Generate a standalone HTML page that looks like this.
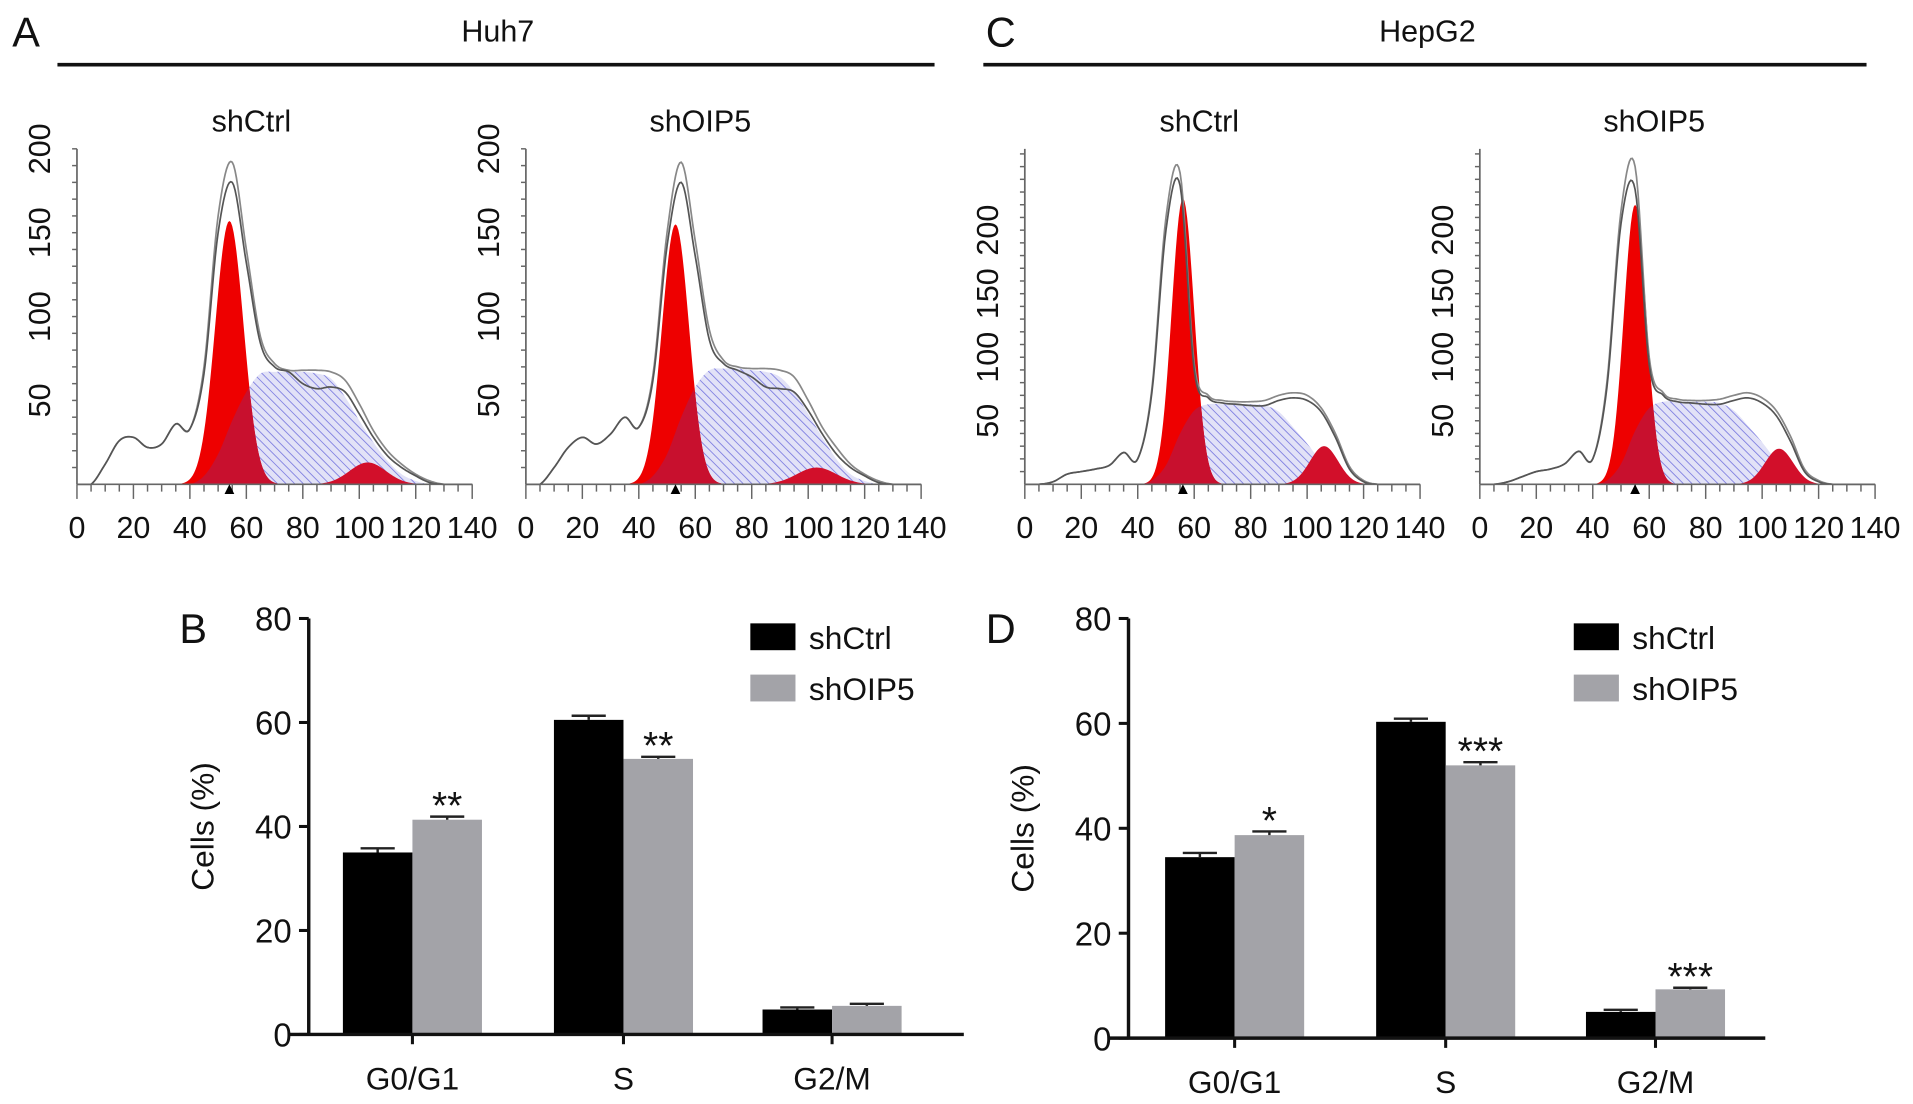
<!DOCTYPE html>
<html><head><meta charset="utf-8"><style>
html,body{margin:0;padding:0;background:#fff}
svg{display:block}
text{font-family:"Liberation Sans",sans-serif;fill:#111}
</style></head><body>
<svg id="fig" width="1913" height="1104" viewBox="0 0 1568 905" xmlns="http://www.w3.org/2000/svg">
<defs>
<pattern id="hatch" patternUnits="userSpaceOnUse" width="5" height="5" patternTransform="rotate(-45)">
<rect width="5" height="5" fill="#e2e2f7"/><line x1="0" y1="0" x2="0" y2="5" stroke="#7c7ce0" stroke-width="1.4"/>
</pattern>
</defs>
<g>
<text x="10" y="38" font-size="34">A</text>
<text x="808" y="38" font-size="34">C</text>
<text x="147" y="527" font-size="34">B</text>
<text x="808" y="527" font-size="34">D</text>
<text x="408" y="34" font-size="25" text-anchor="middle">Huh7</text>
<text x="1170" y="34" font-size="25" text-anchor="middle">HepG2</text>
<line x1="47" y1="53" x2="766" y2="53" stroke="#111" stroke-width="3"/>
<line x1="806" y1="53" x2="1530" y2="53" stroke="#111" stroke-width="3"/>
</g>
</svg>
<script>
// ---- Histogram data (DNA content 0..140 step 5) ----
const histX = [0,5,10,15,20,25,30,35,40,45,50,55,60,65,70,75,80,85,90,95,100,105,110,115,120,125,130,135,140];
const huhCtrlOutlineA = [0,0,12,26,28,22,24,36,33,70,160,192,140,88,72,68,68,68,67,62,48,32,20,12,6,2,0,0,0];
const huhCtrlOutlineB = [0,0,12,26,28,22,24,36,33,66,150,180,132,84,70,67,60,57,58,55,42,28,17,10,5,1,0,0,0];
const huhCtrlS = [0,0,0,0,0,0,0,0,0,5,18,38,55,66,67,67,67,66,63,52,38,25,14,6,2,0,0,0,0];
const huhCtrlPeaks = [[54,5,157],[103,6.5,13]];
const huhOipOutlineA = [0,0,10,22,28,24,30,40,34,65,150,192,145,92,74,70,69,69,68,64,50,34,22,12,6,2,0,0,0];
const huhOipOutlineB = [0,0,10,22,28,24,30,40,34,62,142,180,136,86,72,68,64,58,57,55,44,30,18,10,5,1,0,0,0];
const huhOipS = [0,0,0,0,0,0,0,0,0,5,18,40,58,68,69,69,68,67,64,55,42,28,15,6,2,0,0,0,0];
const huhOipPeaks = [[53,4.8,155],[103,7,10]];
const hepCtrlOutlineA = [0,0,2,8,10,12,15,25,20,75,210,245,95,70,66,65,65,66,70,72,70,60,40,14,3,0,0,0,0];
const hepCtrlOutlineB = [0,0,2,8,10,12,15,25,20,72,200,235,90,68,64,63,62,62,66,68,66,57,37,12,2,0,0,0,0];
const hepCtrlS = [0,0,0,0,0,0,0,0,0,3,15,40,58,63,63,63,63,62,57,45,32,18,8,2,0,0,0,0,0];
const hepCtrlPeaks = [[56,4,225],[106,5,30]];
const hepOipOutlineA = [0,0,2,6,10,12,16,26,20,80,215,250,100,72,67,66,66,67,70,72,68,58,38,12,3,0,0,0,0];
const hepOipOutlineB = [0,0,2,6,10,12,16,26,20,76,205,232,94,70,65,64,63,63,66,68,64,54,34,10,2,0,0,0,0];
const hepOipS = [0,0,0,0,0,0,0,0,0,3,16,42,60,65,65,65,65,64,58,46,33,19,9,2,0,0,0,0,0];
const hepOipPeaks = [[55,4,220],[106,5,28]];
const huhYTicks = [50,100,150,200];
const hepYTicks = [50,100,150,200];
const xTicks = [0,20,40,60,80,100,120,140];

// ---- Bar data ----
const phases = ["G0/G1","S","G2/M"];
const huhCtrlBars = [35,60.5,4.8];
const huhOipBars = [41.3,53,5.5];
const huhCtrlErr = [0.8,0.8,0.4];
const huhOipErr = [0.6,0.4,0.4];
const huhStars = ["**","**",""];
const hepCtrlBars = [34.5,60.3,5];
const hepOipBars = [38.7,52,9.3];
const hepCtrlErr = [0.8,0.6,0.4];
const hepOipErr = [0.7,0.6,0.3];
const hepStars = ["*","***","***"];
const barYTicks = [0,20,40,60,80];

const NS="http://www.w3.org/2000/svg";
const svg=document.getElementById('fig');
function mk(tag,attrs,parent){const e=document.createElementNS(NS,tag);for(const k in attrs)e.setAttribute(k,attrs[k]);(parent||svg).appendChild(e);return e;}

function gauss(x,p){return p[2]*Math.exp(-0.5*Math.pow((x-p[0])/p[1],2));}
function interp(arr,x){
  const n=arr.length;const i=Math.min(Math.floor(x/5),n-2);const t=(x-i*5)/5;
  const p0=arr[Math.max(i-1,0)],p1=arr[i],p2=arr[i+1],p3=arr[Math.min(i+2,n-1)];
  const v=0.5*((2*p1)+(-p0+p2)*t+(2*p0-5*p1+4*p2-p3)*t*t+(-p0+3*p1-3*p2+p3)*t*t*t);
  return Math.max(0,v);
}

function histPanel(name,ox,title,yMax,outA,outB,sArr,peaks,yTicks){
  const y0=397,yTop=122;
  const g=mk('g',{});
  
  
  const sx=v=>ox+v*(324/140);
  const sy=v=>y0-v*((y0-yTop)/yMax);
  const t=mk('text',{x:ox+143,y:108,'font-size':25,'text-anchor':'middle'},g);t.textContent=title;
  
  
  const fine=[];for(let x=0;x<=140;x+=0.5)fine.push(x);
  function area(fn,fill,nm){let d='M'+sx(0)+','+sy(0);fine.forEach(x=>{d+='L'+sx(x).toFixed(2)+','+sy(Math.min(fn(x),yMax*1.15)).toFixed(2);});d+='L'+sx(140)+','+sy(0)+'Z';
    const p=mk('path',{d:d,fill:fill,stroke:'none'},g);return p;}
  area(x=>interp(sArr,x),'url(#hatch)','s-phase-area');
  area(x=>gauss(x,peaks[0]),'#ee0000','g1-peak');
  area(x=>Math.min(gauss(x,peaks[0]),interp(sArr,x)),'#c8102e','g1-s-overlap');
  area(x=>gauss(x,peaks[1]),'#d20f2a','g2-peak');
  [outA,outB].forEach((arr,k)=>{let d='';fine.forEach((x,i)=>{d+=(i?'L':'M')+sx(x).toFixed(2)+','+sy(interp(arr,x)).toFixed(2);});
    const p=mk('path',{d:d,fill:'none',stroke:k?'#555':'#888','stroke-width':1.4},g);});
  const ax=mk('line',{x1:ox,y1:y0,x2:sx(140),y2:y0,stroke:'#666','stroke-width':1.4},g);
  
  const ay=mk('line',{x1:ox,y1:y0,x2:ox,y2:yTop,stroke:'#666','stroke-width':1.4},g);
  
  for(let v=0;v<=140;v+=5){mk('line',{x1:sx(v),y1:y0,x2:sx(v),y2:y0+(v%20==0?12:6),stroke:'#666','stroke-width':1.2},g);}
  for(let v=10;v<=yMax;v+=10){if(sy(v)<yTop-1)break;mk('line',{x1:ox-4,y1:sy(v),x2:ox,y2:sy(v),stroke:'#666','stroke-width':1.2},g);}
  xTicks.forEach(v=>{const tt=mk('text',{x:sx(v),y:441,'font-size':25,'text-anchor':'middle'},g);tt.textContent=v;
    });
  yTicks.forEach(v=>{const tt=mk('text',{x:0,y:0,'font-size':25,'text-anchor':'middle',transform:'translate('+(ox-22)+','+sy(v)+') rotate(-90)'},g);tt.textContent=v;
    });
  const m=mk('path',{d:'M'+(sx(peaks[0][0])-4)+','+(y0+8)+'l4,-8l4,8z',fill:'#000'},g);
  
}
histPanel('huh7-shctrl-histogram',63,'shCtrl',200,huhCtrlOutlineA,huhCtrlOutlineB,huhCtrlS,huhCtrlPeaks,huhYTicks);
histPanel('huh7-shoip5-histogram',431,'shOIP5',200,huhOipOutlineA,huhOipOutlineB,huhOipS,huhOipPeaks,huhYTicks);
histPanel('hepg2-shctrl-histogram',840,'shCtrl',264,hepCtrlOutlineA,hepCtrlOutlineB,hepCtrlS,hepCtrlPeaks,hepYTicks);
histPanel('hepg2-shoip5-histogram',1213,'shOIP5',264,hepOipOutlineA,hepOipOutlineB,hepOipS,hepOipPeaks,hepYTicks);

function barPanel(name,ax0,y0,yTop,xEnd,centers,c,o,ce,oe,stars,legX){
  const g=mk('g',{});
  
  
  const sy=v=>y0-v*(y0-yTop)/80;
  const bw=57;
  phases.forEach((p,i)=>{
    const cx=centers[i];
    const b1=mk('rect',{x:cx-bw,y:sy(c[i]),width:bw,height:y0-sy(c[i]),fill:'#000'},g);
    
    const b2=mk('rect',{x:cx,y:sy(o[i]),width:bw,height:y0-sy(o[i]),fill:'#a3a3a8'},g);
    
    [[cx-bw/2,c[i],ce[i]],[cx+bw/2,o[i],oe[i]]].forEach(e=>{
      const el=mk('path',{d:'M'+e[0]+','+sy(e[1])+'V'+sy(e[1]+e[2])+'M'+(e[0]-14)+','+sy(e[1]+e[2])+'H'+(e[0]+14),stroke:'#222','stroke-width':2,fill:'none'},g);
      });
    if(stars[i]){const s=mk('text',{x:cx+bw/2,y:sy(o[i]+oe[i])+2,'font-size':32,'text-anchor':'middle'},g);s.textContent=stars[i];
      }
    mk('line',{x1:cx,y1:y0,x2:cx,y2:y0+8,stroke:'#111','stroke-width':2.5},g);
    const l=mk('text',{x:cx,y:y0+45,'font-size':26,'text-anchor':'middle'},g);l.textContent=p;
    
  });
  const xa=mk('line',{x1:ax0-17,y1:y0,x2:xEnd,y2:y0,stroke:'#111','stroke-width':2.8},g);
  
  const ya=mk('line',{x1:ax0,y1:y0,x2:ax0,y2:yTop,stroke:'#111','stroke-width':2.8},g);
  
  barYTicks.forEach(v=>{mk('line',{x1:ax0-8,y1:sy(v),x2:ax0,y2:sy(v),stroke:'#111','stroke-width':2.5},g);
    const t=mk('text',{x:ax0-14,y:sy(v)+10,'font-size':27,'text-anchor':'end'},g);t.textContent=v;
    });
  const yl=mk('text',{x:0,y:0,'font-size':26,'text-anchor':'middle',transform:'translate('+(ax0-78)+','+((y0+yTop)/2)+') rotate(-90)'},g);yl.textContent='Cells (%)';
  
  [['#000','shCtrl',511],['#a3a3a8','shOIP5',553]].forEach(L=>{
    const r=mk('rect',{x:legX,y:L[2],width:37,height:22,fill:L[0]},g);
    
    const t=mk('text',{x:legX+48,y:L[2]+21,'font-size':26},g);t.textContent=L[1];
    });
}
barPanel('huh7-bar-chart',253,848,507,790,[338,511,682],huhCtrlBars,huhOipBars,huhCtrlErr,huhOipErr,huhStars,615);
barPanel('hepg2-bar-chart',925,851,507,1447,[1012,1185,1357],hepCtrlBars,hepOipBars,hepCtrlErr,hepOipErr,hepStars,1290);
</script>
</body></html>
